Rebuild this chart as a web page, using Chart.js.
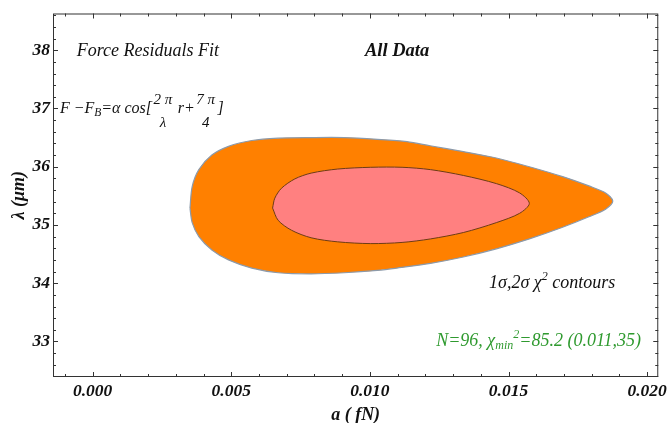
<!DOCTYPE html>
<html>
<head>
<meta charset="utf-8">
<script src="https://cdn.jsdelivr.net/npm/chart.js@4.4.0/dist/chart.umd.min.js"></script>
<style>
  html, body { margin: 0; padding: 0; background: #fff; }
</style>
</head>
<body>
<canvas id="c" width="671" height="423"></canvas>
<script>
// tick labels
const xTicks = [0, 0.005, 0.010, 0.015, 0.020];
const yTicks = [33, 34, 35, 36, 37, 38];

// 2 sigma contour (a in fN, lambda in um)
const outerA = [0.00351, 0.00359, 0.00383, 0.00430, 0.00490, 0.00574, 0.00669, 0.00788, 0.00908, 0.01027,
  0.01134, 0.01217, 0.01337, 0.01456, 0.01575, 0.01695, 0.01790, 0.01850, 0.01876, 0.01850,
  0.01790, 0.01695, 0.01575, 0.01456, 0.01337, 0.01218, 0.01098, 0.01027, 0.00908, 0.00788,
  0.00669, 0.00574, 0.00490, 0.00430, 0.00383, 0.00359, 0.00351];
const outerL = [35.29, 35.66, 35.95, 36.20, 36.35, 36.45, 36.49, 36.50, 36.50, 36.47,
  36.43, 36.36, 36.26, 36.15, 36.00, 35.83, 35.67, 35.55, 35.41, 35.27,
  35.14, 34.96, 34.76, 34.59, 34.45, 34.34, 34.26, 34.22, 34.18, 34.16,
  34.18, 34.26, 34.40, 34.57, 34.80, 35.04, 35.29];

// 1 sigma contour
const innerA = [0.00649, 0.00657, 0.00681, 0.00729, 0.00788, 0.00884, 0.01003, 0.01116, 0.01218, 0.01337,
  0.01456, 0.01540, 0.01575, 0.01540, 0.01456, 0.01337, 0.01218, 0.01116, 0.01003, 0.00884,
  0.00788, 0.00717, 0.00669, 0.00649];
const innerL = [35.29, 35.46, 35.63, 35.79, 35.89, 35.96, 35.99, 35.99, 35.95, 35.85,
  35.71, 35.55, 35.37, 35.20, 35.04, 34.87, 34.76, 34.70, 34.68, 34.71,
  34.78, 34.91, 35.08, 35.29];

const serif = "'Liberation Serif', 'DejaVu Serif', serif";
const tickFont = { family: serif, size: 17.5, style: 'italic', weight: 'bold' };

function pts(xs, ys) {
  return xs.map((v, i) => ({ x: v, y: ys[i] }));
}

// draws runs of text one after another: [text, size, dy, weight]
function runs(ctx, list, x, y, align) {
  const fontOf = r => 'italic ' + (r[3] || 'normal') + ' ' + r[1] + 'px ' + serif;
  let w = 0;
  list.forEach(r => { ctx.font = fontOf(r); w += ctx.measureText(r[0]).width; });
  let cx = align === 'right' ? x - w : (align === 'center' ? x - w / 2 : x);
  list.forEach(r => {
    ctx.font = fontOf(r);
    ctx.fillText(r[0], cx, y + (r[2] || 0));
    cx += ctx.measureText(r[0]).width;
  });
  return cx;
}

function frac(ctx, num, den, x, y, size) {
  ctx.font = 'italic ' + size + 'px ' + serif;
  const w = Math.max(ctx.measureText(num).width, ctx.measureText(den).width) + 3;
  ctx.textAlign = 'center';
  ctx.fillText(num, x + w / 2, y - 9);
  ctx.fillText(den, x + w / 2, y + 14);
  ctx.textAlign = 'left';
  return x + w;
}

const framePlugin = {
  id: 'frame',
  afterDraw(chart) {
    const { ctx, chartArea: a, scales: { x, y } } = chart;
    ctx.save();
    ctx.strokeStyle = '#333';
    ctx.lineWidth = 1;
    ctx.strokeRect(a.left + 0.5, a.top + 0.5, a.width - 1, a.height - 1);
    ctx.beginPath();
    for (let k = -1; k <= 20; k++) {
      const px = Math.round(x.getPixelForValue(k * 0.001)) + 0.5;
      const len = k % 5 === 0 ? 5 : 3;
      ctx.moveTo(px, a.bottom); ctx.lineTo(px, a.bottom - len);
      ctx.moveTo(px, a.top); ctx.lineTo(px, a.top + len);
    }
    for (let k = 162; k <= 193; k++) {
      const py = Math.round(y.getPixelForValue(k * 0.2)) + 0.5;
      const len = k % 5 === 0 ? 5 : 3;
      ctx.moveTo(a.left, py); ctx.lineTo(a.left + len, py);
      ctx.moveTo(a.right, py); ctx.lineTo(a.right - len, py);
    }
    ctx.stroke();

    // annotations
    ctx.fillStyle = '#111';
    ctx.textBaseline = 'alphabetic';
    ctx.textAlign = 'left';
    runs(ctx, [['Force Residuals Fit', 18]], x.getPixelForValue(0.00199), y.getPixelForValue(38) + 6, 'center');
    runs(ctx, [['All Data', 18.5, 0, 'bold']], x.getPixelForValue(0.01098), y.getPixelForValue(38) + 6, 'center');

    const base = y.getPixelForValue(37) + 5;
    let fx = runs(ctx, [['F \u2212F', 16], ['B', 11.5, 3], ['=\u03b1 cos[', 16]], x.getPixelForValue(-0.00118), base, 'left');
    fx = frac(ctx, '2 \u03c0', '\u03bb', fx, base, 15);
    fx = runs(ctx, [[' r+', 16]], fx, base, 'left');
    fx = frac(ctx, '7 \u03c0', '4', fx, base, 15);
    runs(ctx, [[']', 16]], fx + 1, base, 'left');

    runs(ctx, [['1\u03c3,2\u03c3 \u03c7', 18], ['2', 12, -8], [' contours', 18]],
      x.getPixelForValue(0.01885), y.getPixelForValue(34) + 5, 'right');

    ctx.fillStyle = '#2f9a2f';
    runs(ctx, [['N=96, \u03c7', 18], ['min', 12, 3], ['2', 12, -8], ['=85.2 (0.011,35)', 18]],
      x.getPixelForValue(0.01978), y.getPixelForValue(33) + 5, 'right');
    ctx.restore();
  }
};

new Chart(document.getElementById('c'), {
  type: 'scatter',
  data: {
    datasets: [
      {
        label: '1\u03c3',
        data: pts(innerA, innerL),
        showLine: true,
        fill: 'shape',
        backgroundColor: '#ff8080',
        borderColor: '#6e3c14',
        borderWidth: 1,
        pointRadius: 0,
        tension: 0.3,
        order: 1
      },
      {
        label: '2\u03c3',
        data: pts(outerA, outerL),
        showLine: true,
        fill: 'shape',
        backgroundColor: '#ff8000',
        borderColor: '#8c9aaa',
        borderWidth: 1.2,
        pointRadius: 0,
        tension: 0.3,
        order: 2
      }
    ]
  },
  options: {
    responsive: false,
    animation: false,
    devicePixelRatio: 1,
    layout: { padding: { top: 11, right: 8, left: 0, bottom: 0 } },
    plugins: { legend: { display: false }, tooltip: { enabled: false } },
    scales: {
      x: {
        type: 'linear',
        min: -0.00143,
        max: 0.0204,
        afterBuildTicks: s => { s.ticks = xTicks.map(v => ({ value: v })); },
        afterFit: s => { s.height = 46; },
        ticks: {
          callback: v => v.toFixed(3),
          font: tickFont,
          color: '#111',
          padding: 4,
          maxRotation: 0,
          autoSkip: false
        },
        grid: { display: false, drawTicks: false },
        border: { display: false },
        title: {
          display: true,
          text: 'a ( fN)',
          font: { family: serif, size: 18, style: 'italic', weight: 'bold' },
          color: '#111',
          padding: { top: 0, bottom: -3 }
        }
      },
      y: {
        type: 'linear',
        min: 32.39,
        max: 38.63,
        afterBuildTicks: s => { s.ticks = yTicks.map(v => ({ value: v })); },
        afterFit: s => { s.width = 53; },
        ticks: {
          callback: v => String(v),
          font: tickFont,
          color: '#111',
          padding: 3,
          autoSkip: false
        },
        grid: { display: false, drawTicks: false },
        border: { display: false },
        title: {
          display: true,
          text: '\u03bb (\u03bcm)',
          font: { family: serif, size: 18, style: 'italic', weight: 'bold' },
          color: '#111',
          padding: { top: 9, bottom: 0 }
        }
      }
    }
  },
  plugins: [framePlugin]
});
</script>
</body>
</html>
